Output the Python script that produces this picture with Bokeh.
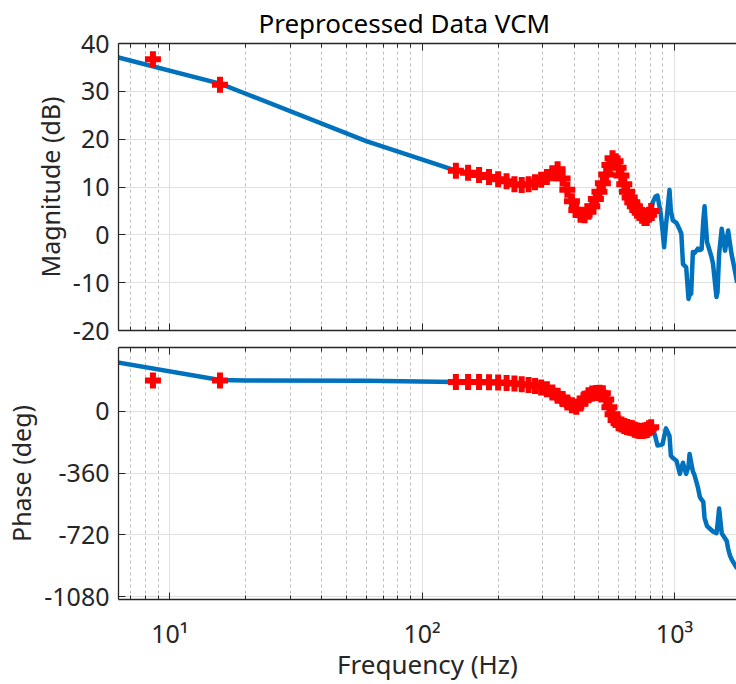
from bokeh.plotting import figure
from bokeh.layouts import column
from bokeh.models import Range1d, FixedTicker, LogAxis, Title
from bokeh.embed import file_html
from bokeh.resources import INLINE

# ---------------- data ----------------
# red "+" markers: preprocessed points
red_freq = [8.57, 15.8,
            136, 152, 168, 184, 200, 216, 232, 248, 264, 280, 296, 312, 328, 344,
            360, 376, 392, 408, 424, 440, 456, 472, 488, 504, 520, 536, 552, 568,
            584, 600, 616, 632, 648, 664, 680, 696, 712, 728, 744, 760, 776, 792, 808]
red_mag = [36.7, 31.4,
           13.4, 13.0, 12.5, 12.1, 11.6, 11.2, 10.6, 10.4, 10.6, 11.0, 11.5, 12.1, 12.9, 13.7,
           11.8, 9.4, 7.0, 5.2, 4.2, 4.1, 4.8, 6.0, 7.5, 9.0, 10.8, 12.6, 14.6, 16.0,
           15.4, 14.0, 12.4, 10.6, 9.0, 7.8, 6.8, 6.0, 5.2, 4.6, 4.0, 3.5, 3.5, 4.2, 5.0]
red_phase = [178, 178,
             170, 170, 169, 168, 166, 163, 160, 156, 152, 146, 138, 127, 108, 90,
             70, 50, 34, 26, 45, 72, 92, 103, 106, 107, 104, 68, 22, -18,
             -52, -70, -78, -86, -92, -97, -100, -108, -112, -116, -115, -112, -110, -100, -94]

# blue line: measured response outside the marked band
blue_low_freq = [5.0, 15.8, 20.0, 60.0]
blue_low_mag = [38.4, 31.6, 29.5, 19.6]
blue_low_phase = [307, 181, 178, 176]

blue_high_freq = [820, 840, 856, 882, 896, 909, 925, 955, 967, 985, 1018, 1050, 1064,
                  1080, 1112, 1136, 1147, 1164, 1182, 1201, 1236, 1260, 1280, 1300,
                  1315, 1345, 1399, 1420, 1466, 1480, 1502, 1515, 1538, 1586, 1610,
                  1631, 1655, 1682, 1720, 1770]
blue_high_mag = [6.8, 8.0, 8.2, 4.4, 1.0, -2.6, 2.0, 9.4, 5.0, 3.0, 2.5, 1.0, 0.2,
                 -6.1, -6.8, -13.4, -12.6, -12.3, -3.6, -3.8, -2.9, -3.2, -3.0, 3.0,
                 6.0, -1.5, -4.5, -6.0, -13.0, -12.0, -4.0, -2.0, 1.25, -3.3, -1.0,
                 0.9, -1.5, -4.0, -6.5, -10.0]
blue_high_phase = [-100, -150, -200, -196, -192, -150, -100, -144, -259, -272, -288, -365, -330,
                   -300, -365, -320, -249, -300, -350, -374, -440, -499, -515, -528,
                   -620, -668, -691, -700, -710, -660, -566, -620, -710, -740, -755,
                   -800, -835, -860, -885, -915]

blue_freq = blue_low_freq + red_freq[2:] + blue_high_freq
blue_mag = blue_low_mag + red_mag[2:] + blue_high_mag
blue_phase = blue_low_phase + red_phase[2:] + blue_high_phase

x_major = [10, 100, 1000]
x_minor = [7, 8, 9, 20, 30, 40, 50, 60, 70, 80, 90,
           200, 300, 400, 500, 600, 700, 800, 900]
x_labels = {10: "10\u00b9", 100: "10\u00b2", 1000: "10\u00b3"}
mag_ticks = [-20, -10, 0, 10, 20, 30, 40]
phase_ticks = [-1080, -720, -360, 0]
title_text = "Preprocessed Data VCM"

# ---------------- style ----------------
FONT = "Noto Sans"
INK = "#262626"
BLUE = "#0072BD"
RED = "#FF0000"


def style_axis(ax, show_labels):
    ax.axis_line_color = INK
    ax.axis_line_width = 1.3
    ax.major_tick_line_color = INK
    ax.minor_tick_line_color = INK
    ax.major_tick_in = 7
    ax.major_tick_out = 0
    ax.minor_tick_in = 4
    ax.minor_tick_out = 0
    ax.major_label_text_font = FONT
    if show_labels:
        ax.major_label_text_color = INK
        ax.major_label_text_font_size = "25px"
    else:
        ax.major_label_text_color = None
        ax.major_label_text_font_size = "1px"
    ax.axis_label_text_font = FONT
    ax.axis_label_text_font_size = "25px"
    ax.axis_label_text_font_style = "normal"
    ax.axis_label_text_color = INK


def make_fig(height, yr, yticks, ylabel, show_x, top_border, bottom_border):
    p = figure(width=736, height=height, x_axis_type="log",
               x_range=Range1d(6.26, 1760), y_range=Range1d(*yr),
               output_backend="svg", toolbar_location=None)
    p.outline_line_color = None
    p.min_border_left = 118
    p.min_border_right = 0
    p.min_border_top = top_border
    p.min_border_bottom = bottom_border
    p.below[0].ticker = FixedTicker(ticks=x_major, minor_ticks=x_minor)
    p.left[0].ticker = FixedTicker(ticks=yticks)
    top = LogAxis(ticker=FixedTicker(ticks=x_major, minor_ticks=x_minor))
    p.add_layout(top, "above")
    style_axis(p.below[0], show_x)
    style_axis(top, False)
    style_axis(p.left[0], True)
    p.left[0].axis_label = ylabel
    p.left[0].major_label_overrides = {v: str(v) for v in yticks}
    p.left[0].major_label_standoff = 9
    p.left[0].axis_label_standoff = 3
    if show_x:
        p.below[0].major_label_overrides = x_labels
        p.below[0].axis_label = "Frequency (Hz)"
        p.below[0].axis_label_text_font_size = "26px"
        p.below[0].major_label_standoff = 16
        p.below[0].axis_label_standoff = -7
    else:
        p.below[0].major_label_standoff = 0
    top.major_label_standoff = 0
    p.xgrid.grid_line_color = "#e0e0e0"
    p.xgrid.grid_line_width = 1
    p.xgrid.minor_grid_line_color = "#bcbcbc"
    p.xgrid.minor_grid_line_dash = "3 3"
    p.ygrid.grid_line_color = "#e0e0e0"
    p.ygrid.grid_line_width = 1
    return p


p1 = make_fig(345, (-20, 40), mag_ticks, "Magnitude (dB)", False, 43, 15)
p1.title = Title(text=title_text, align="left", offset=140,
                 text_font=FONT, text_font_size="26px", text_font_style="normal",
                 text_color="#000000", standoff=5)
p1.line(blue_freq, blue_mag, line_color=BLUE, line_width=4.5, line_join="round")
p1.scatter(red_freq, red_mag, marker="cross", size=16, line_color=RED, line_width=6)

p2 = make_fig(339, (-1095, 370), phase_ticks, "Phase (deg)", True, 2, 82)
p2.line(blue_freq, blue_phase, line_color=BLUE, line_width=4.5, line_join="round")
p2.scatter(red_freq, red_phase, marker="cross", size=16, line_color=RED, line_width=6)

layout = column(p1, p2, spacing=0)
open("out.html", "w").write(file_html(layout, INLINE))
